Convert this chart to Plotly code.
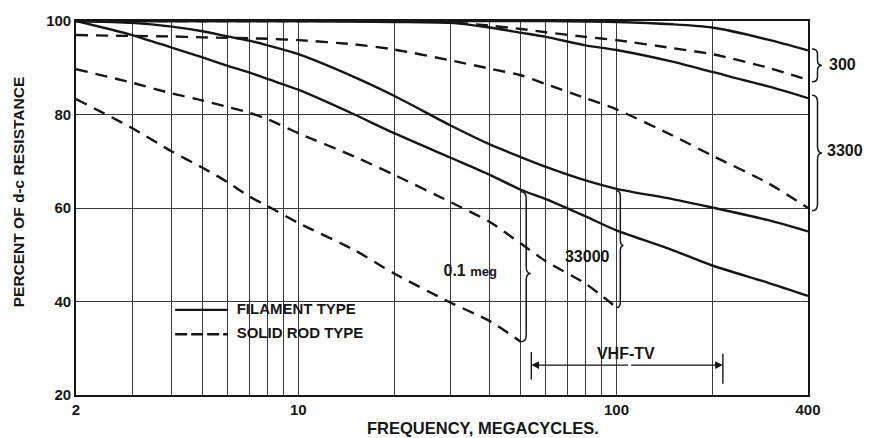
import numpy as np
import plotly.graph_objects as go

# Frequencies (megacycles) at which the curves are tabulated
freq = [2, 3, 4, 5, 6, 7, 8, 10, 15, 20, 30, 40, 50, 60, 80, 100, 150, 200, 300, 400]

# Filament-type resistors: percent of d-c resistance
fil_300 = [100, 100, 100, 100, 100, 100, 100, 100, 100, 100, 100, 100, 100, 100, 99.9, 99.8, 99.3, 98.6, 96.0, 93.7]
fil_3300 = [100, 100, 100, 100, 100, 100, 100, 100, 99.9, 99.8, 99.6, 98.6, 97.5, 96.6, 94.8, 93.8, 91.3, 89.1, 86.0, 83.5]
fil_33000 = [100, 99.6, 98.8, 97.8, 96.7, 95.8, 94.8, 92.9, 88.0, 84.0, 77.7, 73.6, 70.9, 68.8, 65.9, 64.1, 61.9, 60.1, 57.4, 55.0]
fil_01meg = [100, 97.0, 94.3, 92.2, 90.4, 89.0, 87.6, 85.3, 80.0, 76.0, 70.8, 67.1, 63.9, 61.9, 58.2, 55.2, 51.0, 47.7, 44.0, 41.2]

# Solid-rod resistors: percent of d-c resistance (higher values stop early)
rod_300 = [100, 100, 100, 100, 100, 100, 100, 100, 100, 100, 99.7, 99.0, 98.3, 97.6, 96.6, 95.9, 94.2, 92.9, 90.0, 87.4]
rod_3300 = [97.0, 96.8, 96.7, 96.5, 96.4, 96.3, 96.2, 95.9, 95.0, 93.9, 91.6, 89.8, 88.4, 86.5, 83.5, 81.1, 75.5, 71.2, 65.3, 60.0]
rod_33000 = [89.7, 86.8, 84.5, 83.0, 81.6, 80.4, 79.0, 76.0, 71.0, 67.1, 61.3, 57.0, 52.4, 48.6, 43.8, 38.7]
rod_01meg = [83.3, 77.1, 72.1, 68.6, 65.5, 62.5, 60.4, 56.8, 51.0, 46.0, 39.8, 35.8, 31.4]

# Axis ticks
x_grid = [2, 3, 4, 5, 6, 7, 8, 9, 10, 20, 30, 40, 50, 60, 70, 80, 90, 100, 200, 400]
x_labels = {2: "2", 10: "10", 100: "100", 400: "400"}
y_ticks = [20, 40, 60, 80, 100]
Y_LO, Y_HI = 20, 100

# VHF television band (megacycles)
vhf_lo, vhf_hi = 54, 216

INK = "#161616"
GRID = "#3a3a3a"
FONT = "Liberation Sans, Arial, Helvetica, sans-serif"

W, H = 874, 438
ML, MR, MT, MB = 76, 66, 16, 43
PLOT_W = W - ML - MR
PX = 1.0 / PLOT_W  # one pixel in paper units across the plot

X_LO, X_HI = np.log10(2), np.log10(400)


def xpaper(f):
    return (np.log10(f) - X_LO) / (X_HI - X_LO)


def ypaper(v):
    return (v - Y_LO) / (Y_HI - Y_LO)


def brace(x0, y_top, y_bot, w, r, y_mid=None):
    """'}' shaped brace; x in paper units, y in data units."""
    x1, x2 = x0 + w * 0.55, x0 + w
    ym = (y_top + y_bot) / 2 if y_mid is None else y_mid
    return (f"M {x0},{y_top} Q {x1},{y_top} {x1},{y_top - r} "
            f"L {x1},{ym + r} Q {x1},{ym} {x2},{ym} "
            f"Q {x1},{ym} {x1},{ym - r} L {x1},{y_bot + r} "
            f"Q {x1},{y_bot} {x0},{y_bot}")


traces = []

solid = dict(color=INK, width=2.4, shape="spline", smoothing=0.7)
for vals in (fil_300, fil_3300, fil_33000, fil_01meg):
    traces.append(go.Scatter(x=freq[:len(vals)], y=vals, mode="lines",
                             line=solid, showlegend=False, hoverinfo="skip"))

dashed = dict(color=INK, width=2.4, shape="spline", smoothing=0.7, dash="12px,8px")
for vals in (rod_300, rod_3300, rod_33000, rod_01meg):
    traces.append(go.Scatter(x=freq[:len(vals)], y=vals, mode="lines",
                             line=dashed, showlegend=False, hoverinfo="skip"))

# Key (drawn inside the plot on a white patch)
key_x = [4.1, 6.0]
traces.append(go.Scatter(x=key_x, y=[38.2, 38.2], mode="lines",
                         line=dict(color=INK, width=2.4), showlegend=False, hoverinfo="skip"))
traces.append(go.Scatter(x=key_x, y=[33.0, 33.0], mode="lines",
                         line=dict(color=INK, width=2.4, dash="12px,4px"),
                         showlegend=False, hoverinfo="skip"))
traces.append(go.Scatter(x=[6.4, 6.4], y=[38.2, 33.0], mode="text",
                         text=["<b>FILAMENT TYPE</b>", "<b>SOLID ROD TYPE</b>"],
                         textposition="middle right",
                         textfont=dict(family=FONT, size=15, color=INK),
                         showlegend=False, hoverinfo="skip"))

# VHF-TV band end marks
traces.append(go.Scatter(x=[vhf_lo, vhf_lo, None, vhf_hi, vhf_hi],
                         y=[23.3, 29.2, None, 22.4, 28.8], mode="lines",
                         line=dict(color=INK, width=1.4), showlegend=False, hoverinfo="skip"))

# In-plot labels
traces.append(go.Scatter(
    x=[34.7, 80.9, 107], y=[46.3, 49.4, 28.6], mode="text",
    text=["<b>0.1</b> <b><span style='font-size:13px'>meg</span></b>",
          "<b>33000</b>", "<b>VHF-TV</b>"],
    textposition="middle center",
    textfont=dict(family=FONT, size=16, color=INK),
    showlegend=False, hoverinfo="skip"))

shapes = []
# white patch behind the key
shapes.append(dict(type="rect", xref="paper", yref="y", x0=xpaper(4.05), x1=xpaper(21.4) - 8 * PX,
                   y0=30.2, y1=39.7, fillcolor="white", line=dict(width=0), layer="between"))

bl = dict(color=INK, width=1.5)
# brackets grouping the curve pairs
shapes.append(dict(type="path", xref="paper", yref="y", line=bl,
                   path=brace(1 + 4 * PX, fil_300[-1] + 0.3, rod_300[-1] - 0.4, 10 * PX, 1.1)))
shapes.append(dict(type="path", xref="paper", yref="y", line=bl,
                   path=brace(1 + 4 * PX, fil_3300[-1] + 0.6, rod_3300[-1] - 0.6, 10 * PX, 1.4)))
i50 = freq.index(50)
shapes.append(dict(type="path", xref="paper", yref="y", line=bl,
                   path=brace(xpaper(50), fil_01meg[i50] - 0.4, rod_01meg[-1], 10 * PX, 1.4,
                              y_mid=46.0)))
i100 = freq.index(100)
shapes.append(dict(type="path", xref="paper", yref="y", line=bl,
                   path=brace(xpaper(100), fil_33000[i100] - 0.4, rod_33000[-1], 7 * PX, 1.2,
                              y_mid=52.0)))

label_font = dict(family=FONT, size=16, color=INK)
annotations = [
    dict(xref="paper", yref="paper", x=1 + 19 * PX, y=ypaper(90.7), text="<b>300</b>",
         showarrow=False, xanchor="left", yanchor="middle", font=label_font),
    dict(xref="paper", yref="paper", x=1 + 17 * PX, y=ypaper(72.2), text="<b>3300</b>",
         showarrow=False, xanchor="left", yanchor="middle", font=label_font),
    dict(xref="paper", yref="paper", x=xpaper(2) + 407 * PX, y=0, yshift=-33,
         text="<b>FREQUENCY, MEGACYCLES.</b>", showarrow=False, xanchor="center",
         yanchor="middle", font=dict(family=FONT, size=16.5, color=INK)),
    dict(xref="paper", yref="paper", x=0, xshift=-58, y=0.542,
         text="<b>PERCENT OF d-c RESISTANCE</b>", textangle=-90, showarrow=False,
         xanchor="center", yanchor="middle", font=dict(family=FONT, size=15.5, color=INK)),
]
# arrowheads of the VHF-TV band line (annotation positions on a log axis are log10 values)
for head in (vhf_lo, vhf_hi):
    annotations.append(dict(x=np.log10(head), y=26.4, ax=np.log10(110), ay=26.4,
                            xref="x", yref="y", axref="x", ayref="y", text="",
                            showarrow=True, arrowhead=2, arrowsize=1.1, arrowwidth=1.4,
                            arrowcolor=INK, standoff=0, startstandoff=0))

layout = go.Layout(
    width=W, height=H,
    margin=dict(l=ML, r=MR, t=MT, b=MB),
    paper_bgcolor="white", plot_bgcolor="white",
    shapes=shapes, annotations=annotations,
    showlegend=False,
    xaxis=dict(type="log", range=[X_LO, X_HI],
               tickvals=x_grid,
               ticktext=[f"<b>{x_labels[v]}</b>" if v in x_labels else "" for v in x_grid],
               showgrid=True, gridcolor=GRID, gridwidth=1.3,
               showline=True, linecolor=INK, linewidth=1.6, mirror=True,
               ticks="", zeroline=False,
               tickfont=dict(family=FONT, size=15, color=INK)),
    yaxis=dict(range=[Y_LO, Y_HI], tickvals=y_ticks,
               ticktext=[f"<b>{v}</b>" for v in y_ticks],
               showgrid=True, gridcolor=GRID, gridwidth=1.3,
               showline=True, linecolor=INK, linewidth=1.6, mirror=True,
               ticks="", zeroline=False,
               tickfont=dict(family=FONT, size=15, color=INK)),
)

fig = go.Figure(data=traces, layout=layout)
fig.write_html("out.html")
